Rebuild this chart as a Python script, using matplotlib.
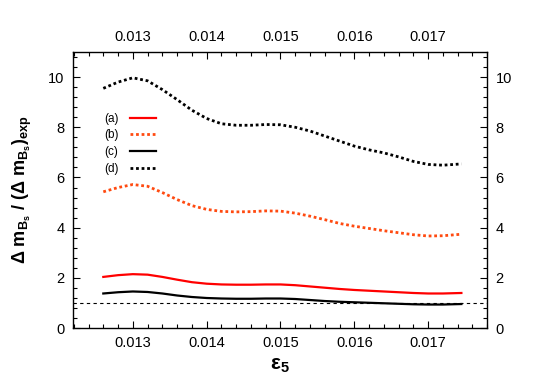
import matplotlib
matplotlib.use("Agg")
import matplotlib.pyplot as plt
from matplotlib.ticker import MultipleLocator

plt.rcParams['font.family'] = ['Liberation Sans', 'DejaVu Sans']
plt.rcParams['mathtext.fontset'] = 'custom'
plt.rcParams['mathtext.rm'] = 'Liberation Sans'
plt.rcParams['mathtext.bf'] = 'Liberation Sans:bold'
plt.rcParams['mathtext.it'] = 'Liberation Sans:italic'

# epsilon_5 sample points
eps5 = [0.0126, 0.0128, 0.0130, 0.0132, 0.0134, 0.0136, 0.0138, 0.0140,
        0.0142, 0.0144, 0.0146, 0.0148, 0.0150, 0.0152, 0.0154, 0.0156,
        0.0158, 0.0160, 0.0162, 0.0164, 0.0166, 0.0168, 0.0170, 0.0172,
        0.01745]

curve_a = [2.04, 2.11, 2.15, 2.13, 2.04, 1.93, 1.83, 1.77, 1.74, 1.73, 1.73,
           1.74, 1.74, 1.71, 1.66, 1.61, 1.56, 1.52, 1.49, 1.46, 1.43, 1.40,
           1.38, 1.38, 1.40]
curve_b = [5.43, 5.60, 5.72, 5.65, 5.40, 5.12, 4.88, 4.73, 4.65, 4.63, 4.64,
           4.67, 4.66, 4.58, 4.46, 4.32, 4.17, 4.06, 3.97, 3.88, 3.80, 3.72,
           3.67, 3.68, 3.74]
curve_c = [1.38, 1.43, 1.46, 1.44, 1.38, 1.30, 1.24, 1.20, 1.18, 1.17, 1.17,
           1.18, 1.18, 1.16, 1.12, 1.08, 1.05, 1.03, 1.01, 0.99, 0.97, 0.95,
           0.94, 0.94, 0.96]
curve_d = [9.55, 9.80, 9.97, 9.85, 9.50, 9.10, 8.68, 8.35, 8.14, 8.08, 8.08,
           8.11, 8.10, 8.00, 7.85, 7.65, 7.45, 7.25, 7.10, 6.98, 6.82, 6.64,
           6.52, 6.49, 6.54]

labels = ['(a)', '(b)', '(c)', '(d)']
xticks = [0.013, 0.014, 0.015, 0.016, 0.017]
ref_level = 1.0

fig = plt.figure(figsize=(5.45, 3.82), dpi=100)
ax = fig.add_axes([0.134, 0.141, 0.760, 0.723])

ax.plot(eps5, curve_a, color='#ff0000', lw=1.6, label=labels[0])
ax.plot(eps5, curve_b, color='#ff4a10', lw=2.0, dashes=(1, 1), label=labels[1])
ax.plot(eps5, curve_c, color='black', lw=1.6, label=labels[2])
ax.plot(eps5, curve_d, color='black', lw=2.0, dashes=(1, 1), label=labels[3])
ax.axhline(ref_level, color='black', lw=0.8, dashes=(3, 3))

ax.set_xlim(0.01219, 0.0178)
ax.set_ylim(0, 11)
ax.set_xticks(xticks)
ax.set_xticklabels([f'{v:.3f}' for v in xticks])
ax.xaxis.set_minor_locator(MultipleLocator(0.0002))
ax.set_yticks([0, 2, 4, 6, 8, 10])
ax.yaxis.set_minor_locator(MultipleLocator(0.4))
ax.tick_params(which='both', direction='in', top=True, right=True,
               labeltop=True, labelright=True, labelsize=10.5, pad=6)
ax.tick_params(which='major', length=5, width=0.8)
ax.tick_params(which='minor', length=3, width=0.8)
for s in ax.spines.values():
    s.set_linewidth(1.0)

ax.set_xlabel(r'$\mathbf{\varepsilon_5}$', fontsize=15, labelpad=4)
ax.set_ylabel(r'$\mathbf{\Delta\ m_{B_s}\ /\ (\Delta\ m_{B_s})_{exp}}$',
              fontsize=13, labelpad=10)

leg = ax.legend(loc='upper left', bbox_to_anchor=(0.055, 0.81), frameon=False,
                markerfirst=False, fontsize=8.5, handlelength=2.2,
                labelspacing=0.4, handletextpad=1.0, borderpad=0.2)

fig.savefig('out.png', dpi=100)
